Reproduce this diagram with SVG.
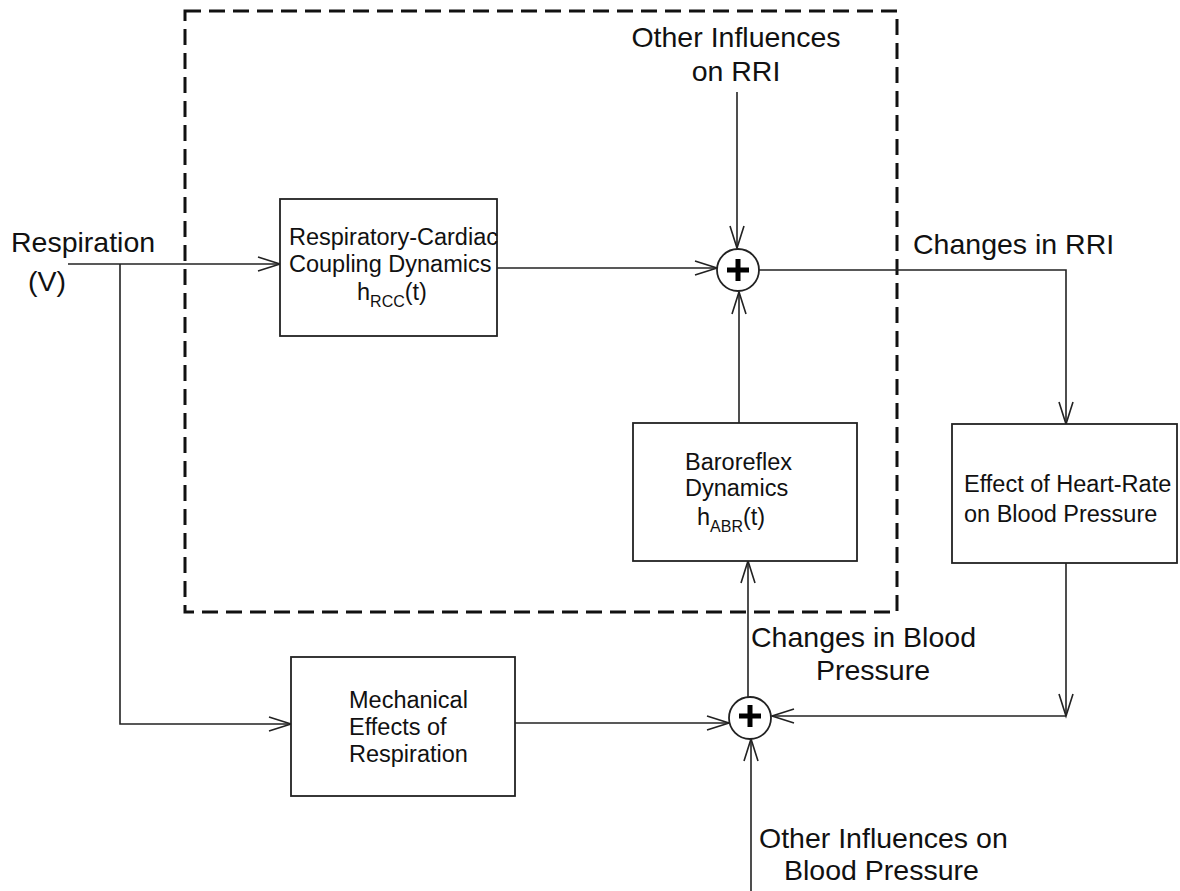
<svg xmlns="http://www.w3.org/2000/svg" width="1180" height="891" viewBox="0 0 1180 891">
<style>
.big{font-family:"Liberation Sans",Arial,sans-serif;font-size:28.5px;fill:#111}
.sm{font-family:"Liberation Sans",Arial,sans-serif;font-size:23.5px;fill:#111}
.sub{font-size:16px}
.box{fill:#fff;stroke:#222;stroke-width:1.8}
.ln{fill:none;stroke:#222;stroke-width:1.6}
.sum{fill:#fff;stroke:#222;stroke-width:1.8}
.plus{stroke:#000;stroke-width:5;fill:none}
.dash{fill:none;stroke:#111;stroke-width:3;stroke-dasharray:16 8}
</style>
<defs>
<marker id="arr" markerUnits="userSpaceOnUse" markerWidth="30" markerHeight="20" viewBox="-24 -10 26 20" refX="0" refY="0" orient="auto">
<path d="M-22,-7 L0,0 L-22,7" fill="none" stroke="#222" stroke-width="1.6"/>
</marker>
</defs>
<rect width="1180" height="891" fill="#fff"/>
<g id="boundary">
<rect class="dash" x="185" y="11" width="712" height="601"/>
</g>
<g id="connectors">
<path class="ln" d="M68,264 H280" marker-end="url(#arr)"/>
<path class="ln" d="M120,264 V724 H291" marker-end="url(#arr)"/>
<path class="ln" d="M497,268 H717" marker-end="url(#arr)"/>
<path class="ln" d="M737,92 V248" marker-end="url(#arr)"/>
<path class="ln" d="M759,270 H1066 V424" marker-end="url(#arr)"/>
<path class="ln" d="M739,423 V292" marker-end="url(#arr)"/>
<path class="ln" d="M1066,563 V716" marker-end="url(#arr)"/>
<path class="ln" d="M1066,716 H772" marker-end="url(#arr)"/>
<path class="ln" d="M515,723 H729" marker-end="url(#arr)"/>
<path class="ln" d="M748,697 V561" marker-end="url(#arr)"/>
<path class="ln" d="M751,891 V739" marker-end="url(#arr)"/>
</g>
<g id="input-label">
<text class="big" x="11" y="252">Respiration</text>
<text class="big" x="28" y="291">(V)</text>
</g>
<g id="rcc">
<rect class="box" x="280" y="199" width="217" height="137"/>
<text class="sm" x="289" y="245">Respiratory-Cardiac</text>
<text class="sm" x="289" y="272">Coupling Dynamics</text>
<text class="sm" x="357" y="300">h<tspan class="sub" dy="7">RCC</tspan><tspan dy="-7">(t)</tspan></text>
</g>
<g id="sum-rri">
<circle class="sum" cx="738" cy="270" r="21"/>
<path class="plus" d="M727,270 H749 M738,259 V281"/>
</g>
<g id="other-rri">
<text class="big" x="736" y="47" text-anchor="middle">Other Influences</text>
<text class="big" x="736" y="81" text-anchor="middle">on RRI</text>
</g>
<g id="changes-rri">
<text class="big" x="913" y="254">Changes in RRI</text>
</g>
<g id="baroreflex">
<rect class="box" x="633" y="423" width="224" height="138"/>
<text class="sm" x="685" y="470">Baroreflex</text>
<text class="sm" x="685" y="496">Dynamics</text>
<text class="sm" x="697" y="525">h<tspan class="sub" dy="7">ABR</tspan><tspan dy="-7">(t)</tspan></text>
</g>
<g id="hr-effect">
<rect class="box" x="952" y="424" width="225" height="139"/>
<text class="sm" x="964" y="492">Effect of Heart-Rate</text>
<text class="sm" x="964" y="522">on Blood Pressure</text>
</g>
<g id="mechanical">
<rect class="box" x="291" y="657" width="224" height="139"/>
<text class="sm" x="349" y="708">Mechanical</text>
<text class="sm" x="349" y="735">Effects of</text>
<text class="sm" x="349" y="762">Respiration</text>
</g>
<g id="sum-bp">
<circle class="sum" cx="750" cy="718" r="21"/>
<path class="plus" d="M739,716 H761 M750,705 V727"/>
</g>
<g id="changes-bp">
<text class="big" x="751" y="647">Changes in Blood</text>
<text class="big" x="816" y="680">Pressure</text>
</g>
<g id="other-bp">
<text class="big" x="759" y="848">Other Influences on</text>
<text class="big" x="784" y="880">Blood Pressure</text>
</g>
</svg>
